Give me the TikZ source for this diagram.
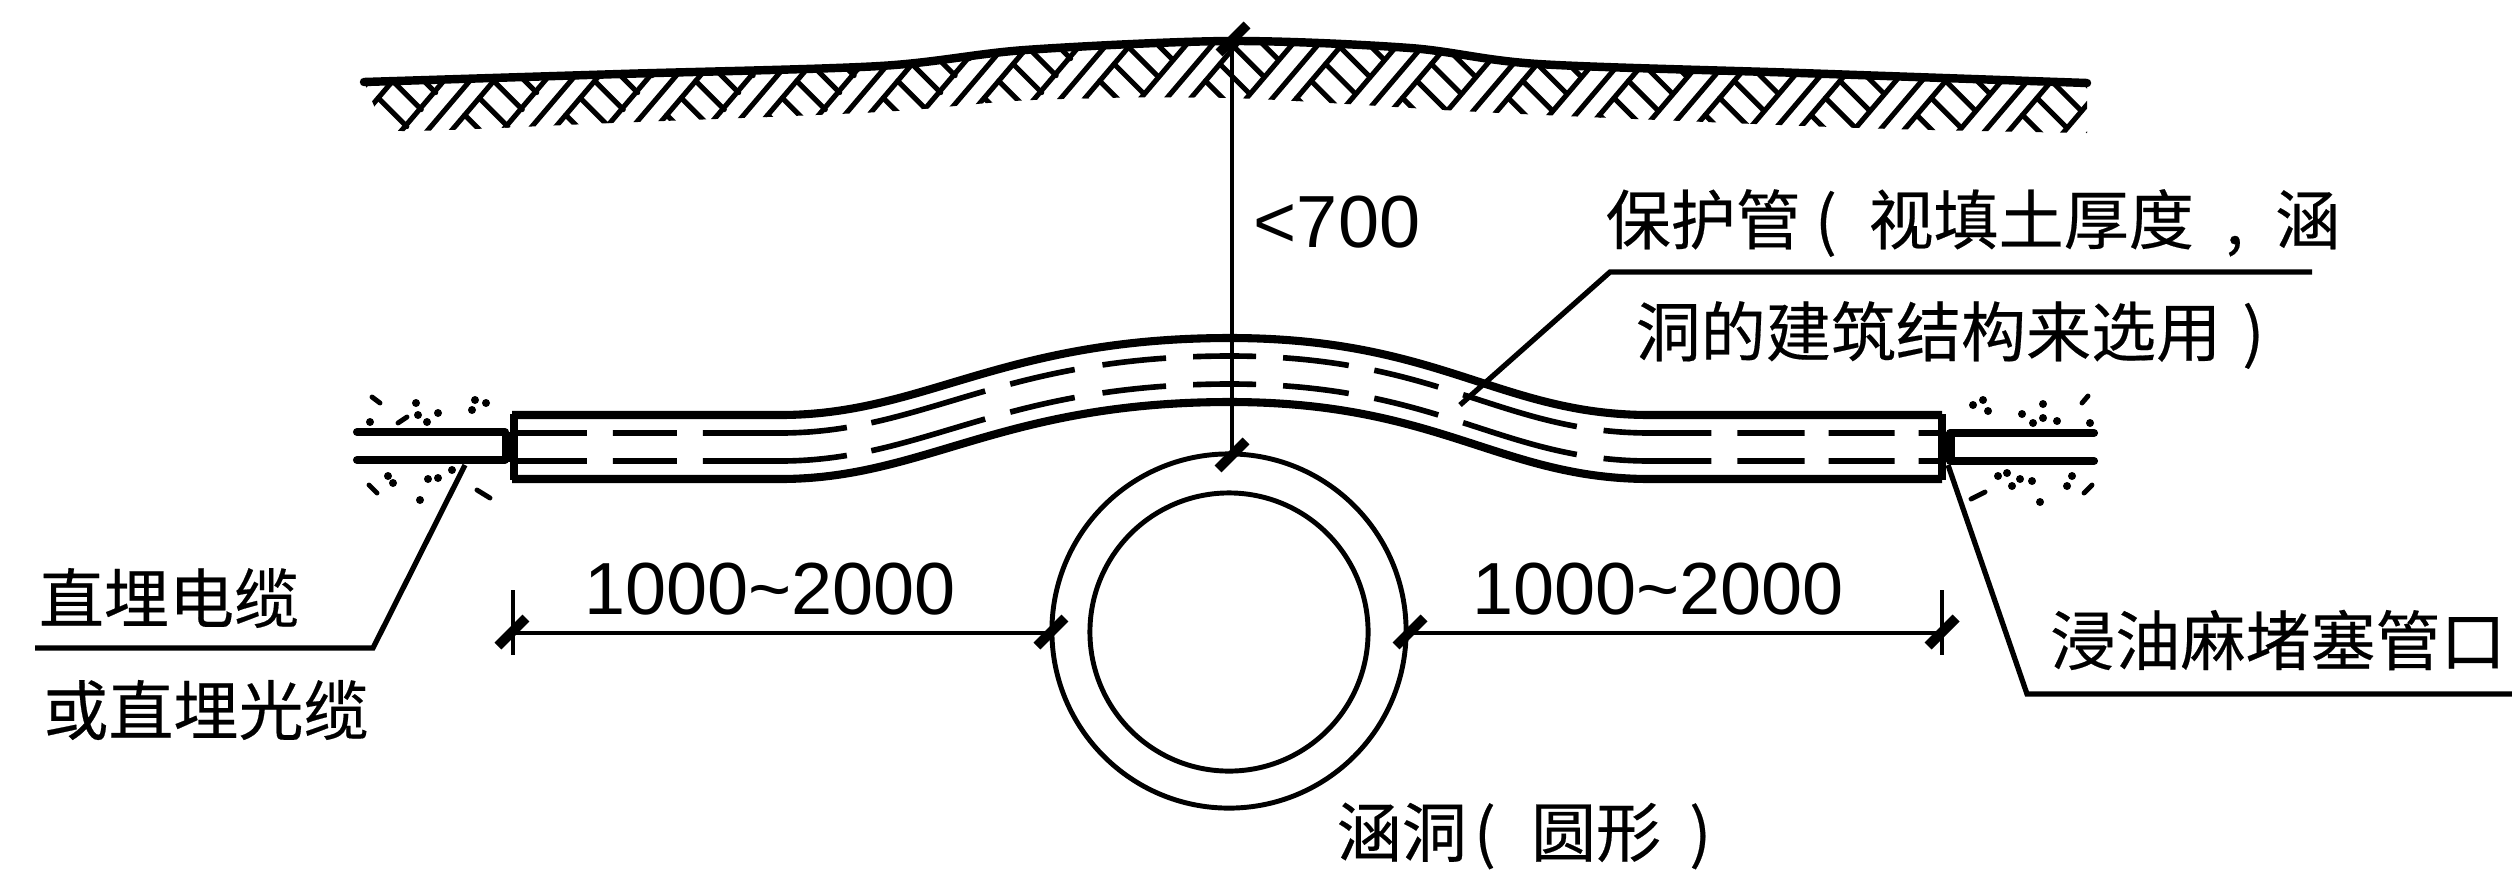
\documentclass[tikz,border=0pt]{standalone}
\usepackage{fontspec}
\setmainfont{Liberation Sans}
\newfontfamily\cjk[FakeBold=0.3]{Noto Sans CJK SC}
\newcommand{\groundtop}{(364,82) (620,74) (880,66) (1025,50) (1230,41) (1410,48) (1538,64) (1800,73) (2087,83)}
\newcommand{\groundlow}{(2087,133) (1860,128) (1500,113) (1230,98) (1033,100) (880,112) (612,123) (402,131) (380,120)}
\newcommand{\pipecurve}{(780,415) .. controls (925,415) and (1000,338) .. (1230,338) .. controls (1440,338) and (1500,415) .. (1650,415)}
\begin{document}
\begin{tikzpicture}[
      x=0.01cm, y=-0.01cm,
      ground/.style={line width=2.4pt, line cap=round},
      hatchline/.style={line width=1.45pt, line cap=round},
      pipeline/.style={line width=2.3pt},
      dashline/.style={line width=1.6pt, dash pattern=on 21.3pt off 7.4pt on 18.2pt off 7.4pt on 41pt off 7.1pt on 33.6pt off 7.4pt on 18.8pt off 8pt on 18.2pt off 7.7pt on 17.9pt off 7.7pt on 18.8pt off 7.4pt on 18.8pt off 7.4pt on 33.6pt off 7.7pt on 30.7pt off 7.4pt on 19.1pt off 6.8pt on 18.8pt off 6.8pt on 11.4pt off 20pt},
      cable/.style={line width=2.3pt, line cap=round},
      dimline/.style={line width=1.3pt},
      tickmark/.style={line width=2.8pt},
      leader/.style={line width=1.5pt},
      speck/.style={line width=1.4pt, line cap=round},
      culvert/.style={draw, shape=circle, line width=1.4pt, inner sep=0pt, outer sep=0pt},
      cntext/.style={inner sep=0pt, font=\cjk\fontsize{18.5pt}{20pt}\selectfont},
      numtext/.style={inner sep=0pt, font=\fontsize{21pt}{24pt}\selectfont}
    ]
    \useasboundingbox (0,0) rectangle (2512,878);
    % ground
    \draw [ground] plot [smooth] coordinates {\groundtop};
    \begin{scope}
      \clip plot [smooth] coordinates {\groundtop} -- plot [smooth] coordinates {\groundlow} -- cycle;
      \foreach \k in {-1,...,17} {
        \pgfmathsetmacro{\hx}{402+101*\k+4.75*max(\k-6,0)}
        \foreach \off in {0,26,50}
          \draw [hatchline] (\hx+\off-17,150) -- (\hx+\off+93.5,20);
        \foreach \t in {15,32,49,66,83,100}
          \draw [hatchline] (\hx+50+0.85*\t,130-\t) -- (\hx+78.6+0.85*\t,158.6-\t);
      }
    \end{scope}
    % protection pipe
    \foreach \dy in {0,64}
      \draw [pipeline, shift={(0,\dy)}] (512,415) -- \pipecurve -- (1942,415);
    \foreach \dy in {18,46}
      \draw [dashline, shift={(0,\dy)}] (512,415) -- \pipecurve -- (1938,415);
    \draw [pipeline] (514,414) -- (514,480);
    \draw [pipeline] (1942,414) -- (1942,480);
    \fill (502,432) rectangle (517,462);
    \fill (1938,432) rectangle (1955,462);
    % cables
    \draw [cable] (357,432) -- (505,432);
    \draw [cable] (357,460) -- (505,460);
    \draw [cable] (1950,433) -- (2094,433);
    \draw [cable] (1950,461) -- (2094,461);
    \foreach \px/\py in {416/403,438/413,418/415,427/422,370/422,475/400,486/403,472/410,
                         388/476,393/483,428/479,438/478,420/500,452/470,
                         1973/405,1983/400,1988/411,2043/404,2022/414,2043/418,2033/423,2057/421,2090/423,
                         1998/476,2007/473,2020/479,2012/486,2032/481,2072/476,2067/486,2040/502}
      \fill (\px,\py) circle (4);
    \draw [speck] (372,397) -- (380,403);
    \draw [speck] (398,423) -- (407,417);
    \draw [speck] (369,485) -- (377,493);
    \draw [speck] (477,490) -- (490,498);
    \draw [speck] (2082,403) -- (2088,396);
    \draw [speck] (2084,493) -- (2092,485);
    \draw [speck] (1971,499) -- (1985,492);
    % culvert
    \node (outerring) [culvert, minimum size=3.54cm] at (1229,631) {};
    \node (innerring) [culvert, minimum size=2.78cm] at (1229,632) {};
    % dimensions
    \coordinate (groundpt) at (1232,40);
    \coordinate (tubept) at (1232,455);
    \coordinate (leftend) at (513,633);
    \coordinate (rightend) at (1942,633);
    \coordinate (leftring) at (1052,633);
    \coordinate (rightring) at (1406,633);
    \draw [dimline] (groundpt) -- (tubept);
    \draw [dimline] (leftend) -- (leftring);
    \draw [dimline] (rightring) -- (rightend);
    \draw [dimline] (513,590) -- (513,655);
    \draw [dimline] (1942,590) -- (1942,655);
    \foreach \pt in {(1233,39),(1232,455),(512,632),(1051,632),(1410,632),(1942,632)}
      \draw [tickmark] \pt ++(-14,14) -- ++(28,-28);
    % leaders
    \coordinate (cablept) at (465,465);
    \coordinate (cablekink) at (373,648);
    \coordinate (cableend) at (35,648);
    \coordinate (plugpt) at (1948,465);
    \coordinate (plugkink) at (2027,694);
    \coordinate (plugend) at (2512,694);
    \coordinate (pipept) at (1460,405);
    \coordinate (pipekink) at (1610,272);
    \coordinate (pipeend) at (2312,272);
    \draw [leader] (cablept) -- (cablekink) -- (cableend);
    \draw [leader] (plugpt) -- (plugkink) -- (plugend);
    \draw [leader] (pipept) -- (pipekink) -- (pipeend);
    % texts
    \node (depth) [numtext] at (1337,222) {<700};
    \node (leftdim) [numtext] at (770,589) {1000\char`~2000};
    \node (rightdim) [numtext] at (1658,589) {1000\char`~2000};
    \node (cablea) [cntext] at (169,598) {直埋电缆};
    \node (cableb) [cntext] at (206,710) {或直埋光缆};
    \node (plugtext) [cntext] at (2278,640) {浸油麻堵塞管口};
    \node (pipea) [cntext] at (1973,223) {保护管\hspace{4pt}(\hspace{9pt}视填土厚度\hspace{9pt},\hspace{9pt}涵};
    \node (pipeb) [cntext] at (1950,335) {洞的建筑结构来选用\hspace{6pt})};
    \node (culverttext) [cntext] at (1524,836) {涵洞\hspace{2pt}(\hspace{10pt}圆形\hspace{8pt})};
  \end{tikzpicture}
\end{document}
